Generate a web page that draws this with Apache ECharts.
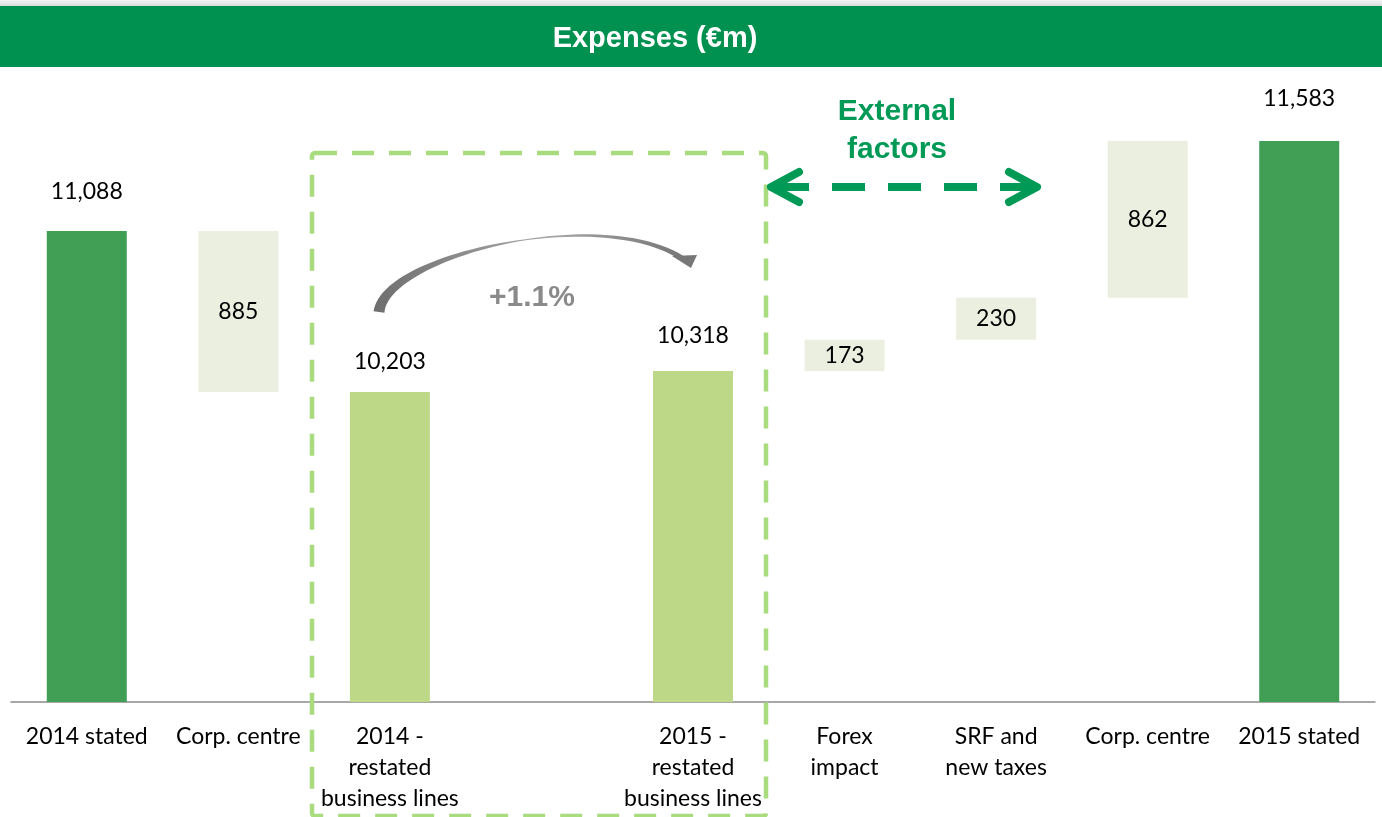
<!DOCTYPE html>
<html style="height: 100%">
    <head>
        <meta charset="utf-8">
    </head>
    <body style="height: 100%; margin: 0">
        <div id="container" style="width: 1382px; height: 817px"></div>

        <script type="text/javascript" src="https://cdn.jsdelivr.net/npm/echarts@6/dist/echarts.min.js"></script>

        <script type="text/javascript">
// ---- data ----
var categories = ['2014 stated', 'Corp. centre', '2014 -\nrestated\nbusiness lines', '',
                  '2015 -\nrestated\nbusiness lines', 'Forex\nimpact', 'SRF and\nnew taxes',
                  'Corp. centre', '2015 stated'];
// totals (full bars), '-' where the step is a change
var totals  = [11088, '-', 10203, '-', 10318, '-', '-', '-', 11583];
// signed changes between totals
var changes = ['-', -885, '-', '-', '-', 173, 230, 862, '-'];

var dom = document.getElementById("container");
var myChart = echarts.init(dom);
var option;

var DARK = '#419E55', LIGHT = '#BDD886', STEP = '#EBEFDF';
var FONT = 'Lato';

// floating bases for the change boxes
var base = [], stepSize = [];
var running = 0;
categories.forEach(function (c, i) {
    if (totals[i] !== '-') {
        running = totals[i];
        base.push('-'); stepSize.push('-');
    } else if (changes[i] !== '-') {
        var d = changes[i];
        if (d < 0) { running += d; base.push(running); }
        else { base.push(running); running += d; }
        stepSize.push(Math.abs(d));
    } else {
        base.push('-'); stepSize.push('-');
    }
});

var totalLabelGap = { 0: 28, 2: 19, 4: 24, 8: 31 };
var totalData = totals.map(function (v, i) {
    if (v === '-') return '-';
    var stated = (i === 0 || i === categories.length - 1);
    return {
        value: v,
        itemStyle: { color: stated ? DARK : LIGHT },
        label: { distance: totalLabelGap[i] || 25 }
    };
});

// tapered curved arrow (+1.1%)
function curvedArrow() {
    var P = [[379, 312], [385, 255], [600, 205], [682, 258]];
    function pt(t) {
        var u = 1 - t;
        return [u*u*u*P[0][0] + 3*u*u*t*P[1][0] + 3*u*t*t*P[2][0] + t*t*t*P[3][0],
                u*u*u*P[0][1] + 3*u*u*t*P[1][1] + 3*u*t*t*P[2][1] + t*t*t*P[3][1]];
    }
    function width(t) {
        return t < 0.55 ? 11 - 10 * (t / 0.55) : 1 + 4 * ((t - 0.55) / 0.45);
    }
    var left = [], right = [], N = 50;
    for (var k = 0; k <= N; k++) {
        var t = k / N;
        var a = pt(Math.max(0, t - 0.01)), b = pt(Math.min(1, t + 0.01));
        var dx = b[0] - a[0], dy = b[1] - a[1], len = Math.sqrt(dx*dx + dy*dy);
        var nx = -dy / len, ny = dx / len, p = pt(t), w = width(t) / 2;
        left.push([p[0] + nx * w, p[1] + ny * w]);
        right.unshift([p[0] - nx * w, p[1] - ny * w]);
    }
    return left.concat(right);
}

option = {
    animation: false,
    grid: { left: 11, right: 7, top: 65, bottom: 115 },
    xAxis: {
        type: 'category',
        data: categories,
        axisTick: { show: false },
        axisLine: { lineStyle: { color: '#8C8C8C', width: 1.5 } },
        axisLabel: {
            interval: 0,
            margin: 19,
            color: '#000',
            fontFamily: FONT,
            fontSize: 23,
            lineHeight: 31
        }
    },
    yAxis: {
        type: 'value',
        min: 8500,
        max: 12000,
        show: false,
        splitLine: { show: false }
    },
    series: [
        {
            name: 'base',
            type: 'bar',
            stack: 'w',
            barWidth: 80,
            clip: true,
            silent: true,
            itemStyle: { color: 'transparent' },
            data: base
        },
        {
            name: 'change',
            type: 'bar',
            stack: 'w',
            barWidth: 80,
            clip: true,
            itemStyle: { color: STEP },
            label: {
                show: true,
                position: 'inside',
                color: '#000',
                fontFamily: FONT,
                fontSize: 23
            },
            data: stepSize
        },
        {
            name: 'total',
            type: 'bar',
            stack: 'w',
            barWidth: 80,
            clip: true,
            label: {
                show: true,
                position: 'top',
                color: '#000',
                fontFamily: FONT,
                fontSize: 23,
                formatter: function (p) { return p.value.toLocaleString('en-US'); }
            },
            data: totalData
        }
    ],
    graphic: [
        {
            type: 'rect', z: 1,
            shape: { x: 0, y: 0, width: 1382, height: 6 },
            style: { fill: new echarts.graphic.LinearGradient(0, 0, 0, 1, [
                { offset: 0, color: '#F6F6F6' }, { offset: 1, color: '#DADADA' }]) }
        },
        {
            type: 'rect', z: 1,
            shape: { x: 0, y: 6, width: 1382, height: 61 },
            style: { fill: '#00904F' }
        },
        {
            type: 'text', z: 2,
            x: 655, y: 39,
            style: {
                text: 'Expenses (€m)',
                fill: '#fff',
                font: 'bold 29px "Liberation Sans", Arial, sans-serif',
                textAlign: 'center',
                textVerticalAlign: 'middle'
            }
        },
        {
            type: 'rect', z: 10,
            shape: { x: 312, y: 153, width: 454, height: 663, r: 3 },
            style: { fill: null, stroke: '#A9DB7F', lineWidth: 4.5, lineDash: [22, 15] }
        },
        {
            type: 'polygon', z: 10,
            shape: { points: curvedArrow() },
            style: { fill: new echarts.graphic.LinearGradient(0, 0, 1, 0, [
                { offset: 0, color: '#6E6E6E' }, { offset: 0.55, color: '#A8A8A8' },
                { offset: 1, color: '#777' }], false) }
        },
        {
            type: 'polygon', z: 10,
            shape: { points: [[672, 256], [697, 255], [691, 268]] },
            style: { fill: '#777' }
        },
        {
            type: 'text', z: 10,
            x: 532, y: 298,
            style: {
                text: '+1.1%',
                fill: '#8A8A8A',
                font: 'bold 30px "Liberation Sans", Arial, sans-serif',
                textAlign: 'center',
                textVerticalAlign: 'middle'
            }
        },
        {
            type: 'text', z: 10,
            x: 897, y: 131,
            style: {
                text: 'External\nfactors',
                fill: '#009A56',
                font: 'bold 30px "Liberation Sans", Arial, sans-serif',
                lineHeight: 38,
                textAlign: 'center',
                textVerticalAlign: 'middle'
            }
        },
        {
            type: 'line', z: 10,
            shape: { x1: 776, y1: 187, x2: 1033, y2: 187 },
            style: { stroke: '#009A56', lineWidth: 8, lineDash: [33, 23] }
        },
        {
            type: 'polyline', z: 10,
            shape: { points: [[799, 172], [771, 187], [799, 202]] },
            style: { stroke: '#009A56', lineWidth: 8, lineCap: 'round', lineJoin: 'round', fill: null }
        },
        {
            type: 'polyline', z: 10,
            shape: { points: [[1009, 172], [1037, 187], [1009, 202]] },
            style: { stroke: '#009A56', lineWidth: 8, lineCap: 'round', lineJoin: 'round', fill: null }
        }
    ]
};

if (option && typeof option === 'object') {
    myChart.setOption(option);
}
        </script>
    </body>
</html>
